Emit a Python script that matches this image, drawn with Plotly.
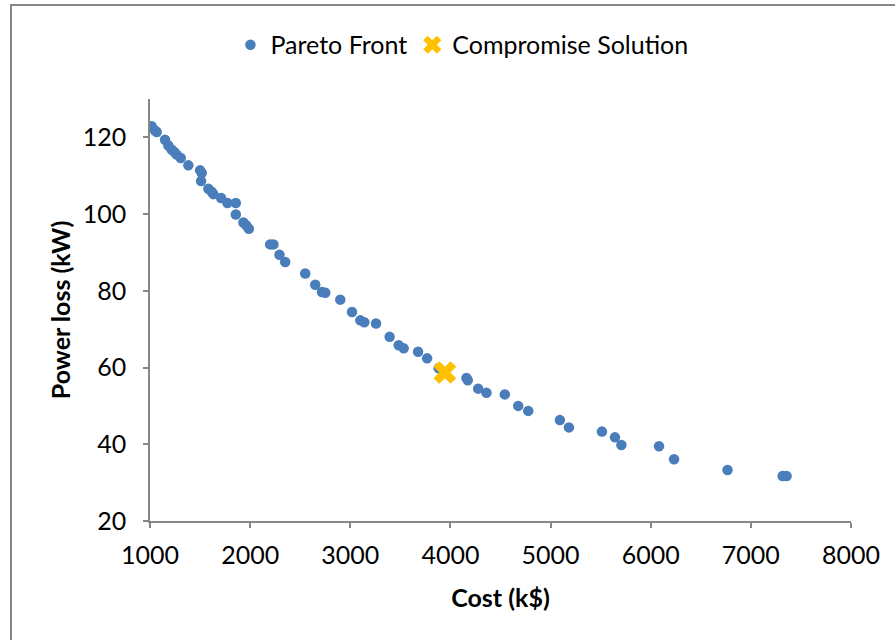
import plotly.graph_objects as go

# Pareto-optimal solutions: investment cost (k$) vs. power loss (kW)
cost = [1017, 1050, 1067, 1150, 1183, 1217, 1243, 1267, 1307, 1383,
        1500, 1517, 1510, 1583, 1617, 1633, 1710, 1773, 1857, 1857,
        1933, 1960, 1987, 2200, 2233, 2293, 2350, 2550, 2650, 2717,
        2750, 2900, 3017, 3100, 3140, 3257, 3393, 3483, 3533, 3677,
        3767, 3883, 4160, 4173, 4277, 4360, 4543, 4677, 4777, 5093,
        5183, 5513, 5643, 5707, 6083, 6233, 6767, 7317, 7357]
power_loss = [122.9, 121.8, 121.4, 119.4, 117.9, 116.8, 116.2, 115.5, 114.6, 112.7,
              111.4, 110.7, 108.6, 106.6, 105.8, 105.2, 104.2, 102.9, 102.9, 99.9,
              97.8, 97.1, 96.2, 92.1, 92.1, 89.4, 87.5, 84.5, 81.6, 79.7,
              79.5, 77.7, 74.5, 72.3, 71.8, 71.5, 68.0, 65.8, 65.0, 64.1,
              62.4, 59.8, 57.3, 56.7, 54.5, 53.4, 53.0, 50.0, 48.7, 46.3,
              44.4, 43.3, 41.8, 39.8, 39.5, 36.1, 33.3, 31.7, 31.7]

# Selected compromise solution
compromise_cost = [3945]
compromise_loss = [58.7]

x_ticks = [1000, 2000, 3000, 4000, 5000, 6000, 7000, 8000]
y_ticks = [20, 40, 60, 80, 100, 120]

FONT = "Lato"
FSIZE = 25
AXIS_GRAY = "#868686"

fig = go.Figure()
fig.add_trace(go.Scatter(
    x=cost, y=power_loss, mode="markers", name="Pareto Front",
    marker=dict(color="#4A7EBB", size=10.5, line=dict(width=0)),
))
fig.add_trace(go.Scatter(
    x=compromise_cost, y=compromise_loss, mode="markers", name="Compromise Solution",
    marker=dict(color="#FFC000", size=20, symbol="x", line=dict(width=0)),
))

axis_common = dict(
    showline=True, linecolor=AXIS_GRAY, linewidth=1.5,
    ticks="outside", ticklen=5, tickcolor=AXIS_GRAY, tickwidth=1.5,
    showgrid=False, zeroline=False,
    tickfont=dict(family=FONT, size=FSIZE, color="#000000"),
)

fig.update_layout(
    width=895, height=640,
    margin=dict(l=150, r=44, t=99, b=119),
    paper_bgcolor="white", plot_bgcolor="white",
    font=dict(family=FONT, color="#000000"),
    showlegend=True,
    legend=dict(
        orientation="h", x=0.445, xanchor="center", y=1.128, yanchor="middle",
        font=dict(family=FONT, size=FSIZE, color="#000000"),
        bgcolor="rgba(0,0,0,0)",
    ),
    xaxis=dict(
        range=[1000, 8000], tickvals=x_ticks, ticklabelstandoff=6,
        title=dict(text="<b>Cost (k$)</b>", font=dict(family=FONT, size=FSIZE), standoff=22),
        **axis_common,
    ),
    yaxis=dict(
        range=[20, 130], tickvals=y_ticks, ticklabelstandoff=12,
        title=dict(text="<b>Power loss (kW)</b>", font=dict(family=FONT, size=FSIZE), standoff=5),
        **axis_common,
    ),
    shapes=[dict(
        type="rect", xref="paper", yref="paper",
        x0=(11 - 150) / 701, x1=(920 - 150) / 701,
        y0=(521 - 660) / 422, y1=(521 - 5) / 422,
        line=dict(color=AXIS_GRAY, width=2), fillcolor="rgba(0,0,0,0)", layer="below",
    )],
)

fig.write_html("out.html")
